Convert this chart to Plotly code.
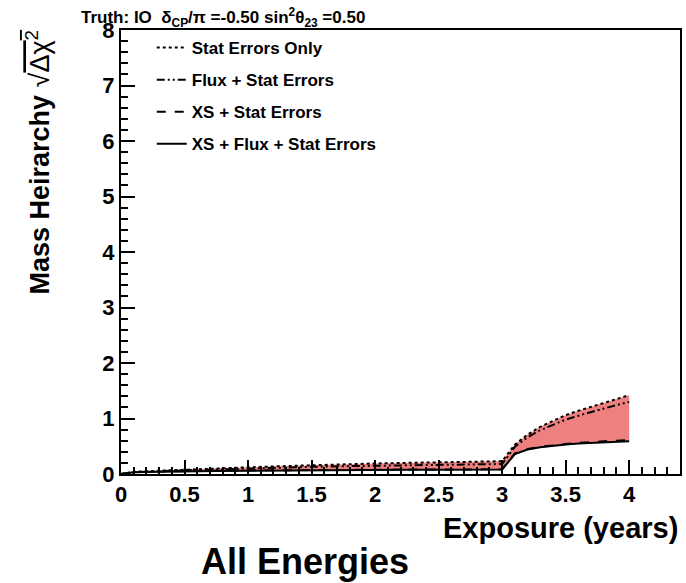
import plotly.graph_objects as go

exposure = [0.0, 0.1, 0.2, 0.3, 0.4, 0.5, 0.75, 1.0, 1.25, 1.5, 1.75, 2.0, 2.25, 2.5, 2.75, 3.0,
            3.1, 3.2, 3.3, 3.4, 3.5, 3.6, 3.7, 3.8, 3.9, 4.0]
stat_only = [0.0, 0.04, 0.05, 0.06, 0.07, 0.08, 0.10, 0.12, 0.14, 0.16, 0.175, 0.19, 0.20, 0.21, 0.22, 0.23,
             0.53, 0.71, 0.85, 0.96, 1.06, 1.14, 1.21, 1.28, 1.35, 1.42]
flux_stat = [0.0, 0.03, 0.04, 0.05, 0.06, 0.07, 0.08, 0.10, 0.11, 0.13, 0.14, 0.15, 0.16, 0.17, 0.175, 0.18,
             0.49, 0.66, 0.79, 0.89, 0.98, 1.05, 1.12, 1.18, 1.24, 1.30]
xs_stat = [0.0, 0.03, 0.04, 0.045, 0.05, 0.055, 0.06, 0.065, 0.07, 0.07, 0.075, 0.075, 0.08, 0.08, 0.085, 0.085,
           0.37, 0.45, 0.49, 0.52, 0.54, 0.56, 0.58, 0.59, 0.60, 0.61]
xs_flux_stat = [0.0, 0.03, 0.035, 0.04, 0.045, 0.05, 0.055, 0.06, 0.065, 0.065, 0.07, 0.07, 0.075, 0.075, 0.08, 0.08,
                0.36, 0.44, 0.48, 0.51, 0.53, 0.55, 0.56, 0.57, 0.58, 0.59]

names = ["Stat Errors Only", "Flux + Stat Errors", "XS + Stat Errors", "XS + Flux + Stat Errors"]
fill_color = "#ee8080"
font_family = "Liberation Sans, Arial, Helvetica, sans-serif"

fig = go.Figure()
# band between stat-only and full-systematics curves
fig.add_trace(go.Scatter(x=exposure, y=xs_flux_stat, mode="lines", line=dict(width=0),
                         showlegend=False, hoverinfo="skip"))
fig.add_trace(go.Scatter(x=exposure, y=stat_only, mode="lines", line=dict(width=0),
                         fill="tonexty", fillcolor=fill_color, showlegend=False, hoverinfo="skip"))

series = [stat_only, flux_stat, xs_stat, xs_flux_stat]
dashes = ["dot", "8px,3px,2px,3px,2px,3px", "dash", "solid"]
for i, (nm, ys, d) in enumerate(zip(names, series, dashes)):
    fig.add_trace(go.Scatter(x=exposure, y=ys, mode="lines", name=nm,
                             line=dict(color="black", width=2, dash=d),
                             legendgroup=f"g{i}"))

axis_common = dict(showline=True, linecolor="black", linewidth=2, mirror=True,
                   ticks="inside", tickcolor="black", tickwidth=2, ticklen=14,
                   showgrid=False, zeroline=False,
                   tickfont=dict(family=font_family, size=22, color="black", weight="bold"),
                   minor=dict(ticks="inside", ticklen=7, tickwidth=1.5, tickcolor="black"))

fig.update_xaxes(range=[0, 4.4], tick0=0, dtick=0.5, minor_dtick=0.1, **axis_common)
fig.update_yaxes(range=[0, 8], tick0=0, dtick=1, minor_dtick=0.2, **axis_common)

fig.add_annotation(text="Mass Heirarchy <span style='font-weight:normal'>√<span style='text-decoration:overline'>Δχ<sup>2</sup></span></span>",
                   xref="paper", yref="paper", x=-0.148, y=1.005, xanchor="center", yanchor="top",
                   textangle=-90, showarrow=False,
                   font=dict(family=font_family, size=27, color="black", weight="bold"))
fig.add_annotation(text="Truth: IO  δ<sub>CP</sub>/π =-0.50 sin<sup>2</sup>θ<sub>23</sub> =0.50",
                   xref="paper", yref="paper", x=-0.075, y=0.995, xanchor="left", yanchor="bottom",
                   showarrow=False, font=dict(family=font_family, size=17, color="black", weight="bold"))
fig.add_annotation(text="Exposure (years)", xref="paper", yref="paper", x=1.0, y=-0.1216,
                   xanchor="right", yanchor="middle", showarrow=False,
                   font=dict(family=font_family, size=29, color="black", weight="bold"))
fig.add_annotation(text="All Energies", xref="paper", yref="paper", x=0.33, y=-0.198,
                   xanchor="center", yanchor="middle", showarrow=False,
                   font=dict(family=font_family, size=36, color="black", weight="bold"))

fig.update_layout(width=686, height=583, margin=dict(l=121, r=4, t=30, b=109),
                  paper_bgcolor="white", plot_bgcolor="white",
                  legend=dict(x=0.055, y=1.0, xanchor="left", yanchor="top",
                              bgcolor="rgba(0,0,0,0)", tracegroupgap=7,
                              font=dict(family=font_family, size=17, color="black", weight="bold")))

fig.write_html("out.html")
